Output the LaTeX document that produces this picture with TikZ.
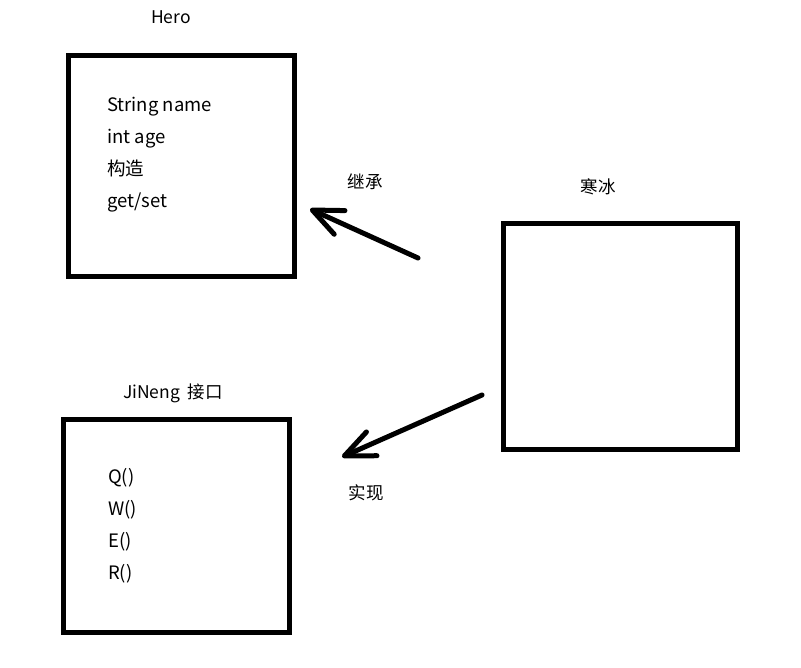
\documentclass[tikz,border=0pt]{standalone}
\usepackage{fontspec}
\setmainfont{Noto Sans CJK SC}
\usetikzlibrary{arrows.meta,positioning}

\begin{document}
\begin{tikzpicture}[
    x=1pt, y=-1pt,
    classbox/.style={rectangle, draw, line width=5pt, inner sep=0pt},
    member/.style={anchor=west, inner sep=0pt, align=left, font=\fontsize{18.5}{32}\selectfont},
    title/.style={inner sep=0pt, font=\fontsize{17.5}{20}\selectfont},
    edge/.style={-{Straight Barb[length=30pt, width=26pt, round]}, line width=5pt, line cap=round},
]
\useasboundingbox (0,0) rectangle (801,668);

% the three boxes
\node[classbox, minimum width=226pt, minimum height=221pt] (hero) at (181.5,166) {};
\node[classbox, minimum width=226pt, minimum height=213pt] (jineng) at (176.5,526) {};
\node[classbox, minimum width=234pt, minimum height=226pt] (hanbing) at (620.5,336.5) {};

% titles
\node[title] (herotitle) at (171,17) {Hero};
\node[title] (jinengtitle) at (173,393) {JiNeng\ \ 接口};
\node[title] (hanbingtitle) at (598,187) {寒冰};

% members
\node[member] (heromembers) at (107,155) {String name\\int age\\构造\\get/set};
\node[member] (jinengmembers) at (108,526) {Q()\\W()\\E()\\R()};

% connectors
\coordinate (extstart) at (418,258);
\coordinate (extend) at (310,209);
\coordinate (implstart) at (482,395);
\coordinate (implend) at (342,457);
\draw[edge] (extstart) -- (extend);
\draw[edge] (implstart) -- (implend);
\node[title] (extlabel) at (365,182) {继承};
\node[title] (impllabel) at (366,493) {实现};

\end{tikzpicture}
\end{document}
